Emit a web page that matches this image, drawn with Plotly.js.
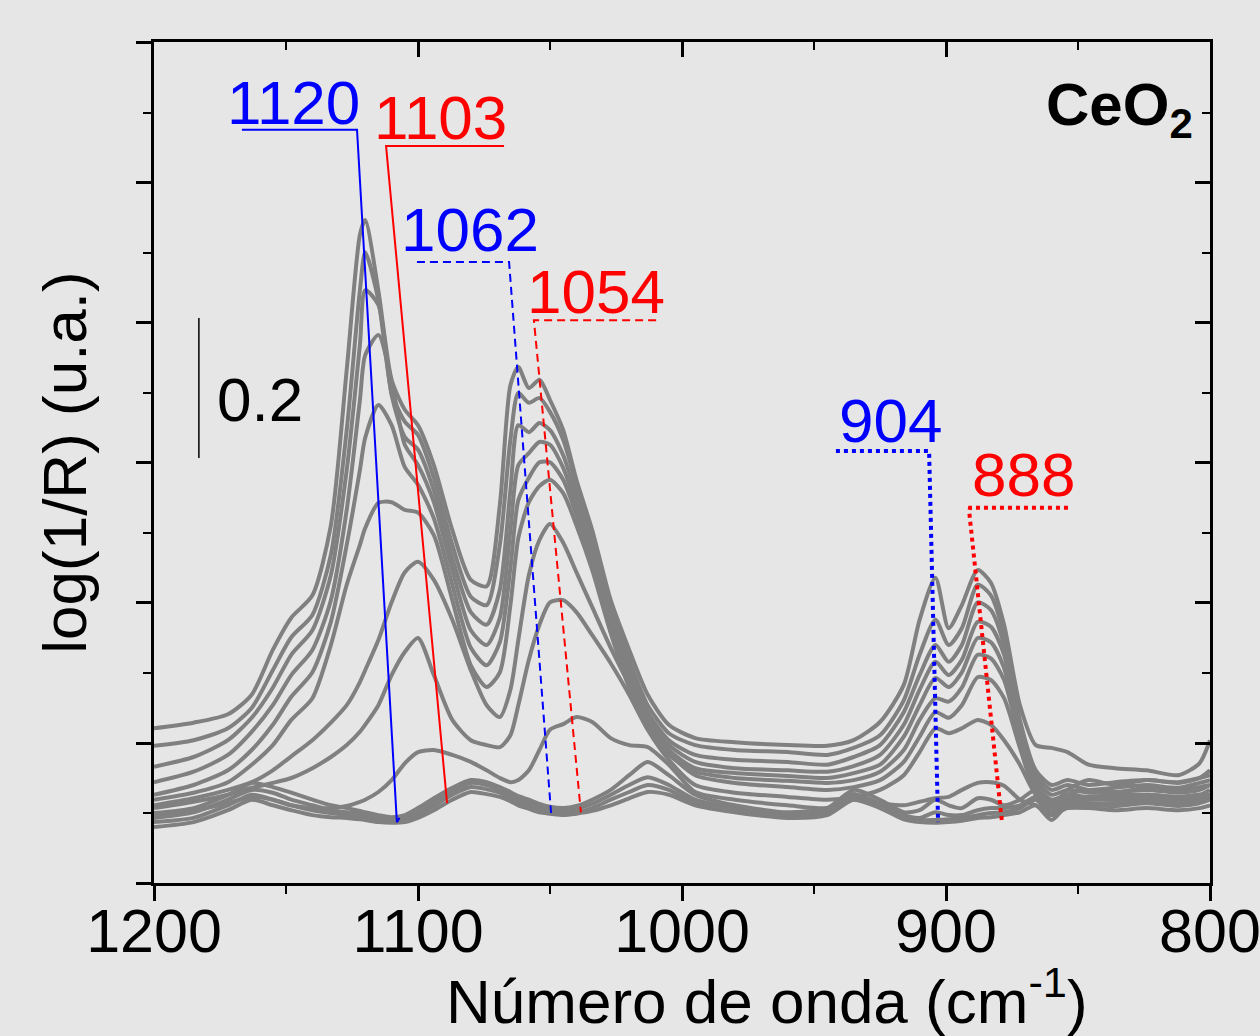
<!DOCTYPE html>
<html><head><meta charset="utf-8">
<script src="https://cdn.plot.ly/plotly-3.0.1.min.js"></script>
<style>html,body{margin:0;padding:0;background:#e6e6e6}</style>
</head><body>
<div id="chart" style="width:1260px;height:1036px"></div>
<script>
// Wavenumber grid (cm-1)
const wavenumber = [1200,1185,1172,1163,1155,1148,1140,1133,1127,1122,1120,1115,1110,1105,1100,1094,1087,1080,1074,1069,1065,1062,1058,1054,1050,1045,1040,1034,1027,1020,1013,1005,995,980,960,945,935,925,916,910,904,899,894,888,883,878,872,866,860,854,846,836,824,812,804,800];

// log(1/R) spectra, from the highest curve to the lowest
const spectrum01 = [0.221,0.229,0.241,0.269,0.333,0.379,0.411,0.511,0.733,0.926,0.947,0.846,0.719,0.676,0.654,0.597,0.504,0.433,0.424,0.540,0.711,0.737,0.707,0.719,0.690,0.647,0.576,0.504,0.404,0.333,0.269,0.226,0.207,0.201,0.197,0.196,0.204,0.230,0.283,0.376,0.436,0.364,0.397,0.447,0.429,0.369,0.254,0.197,0.193,0.187,0.169,0.164,0.161,0.154,0.171,0.204];
const spectrum02 = [0.196,0.204,0.221,0.250,0.304,0.351,0.383,0.469,0.647,0.847,0.901,0.833,0.701,0.659,0.640,0.579,0.483,0.409,0.397,0.483,0.633,0.700,0.686,0.693,0.673,0.633,0.569,0.497,0.397,0.319,0.254,0.214,0.197,0.190,0.187,0.183,0.193,0.211,0.261,0.326,0.376,0.340,0.364,0.426,0.411,0.354,0.233,0.161,0.140,0.147,0.140,0.144,0.147,0.144,0.150,0.154];
const spectrum03 = [0.166,0.180,0.204,0.236,0.279,0.326,0.361,0.440,0.590,0.769,0.847,0.826,0.697,0.637,0.619,0.561,0.464,0.387,0.369,0.419,0.561,0.654,0.644,0.657,0.647,0.611,0.554,0.483,0.387,0.307,0.244,0.204,0.183,0.176,0.173,0.169,0.180,0.197,0.244,0.297,0.340,0.316,0.340,0.401,0.390,0.340,0.226,0.154,0.133,0.140,0.133,0.136,0.140,0.136,0.143,0.147];
const spectrum04 = [0.144,0.159,0.183,0.216,0.254,0.297,0.333,0.404,0.533,0.690,0.754,0.783,0.716,0.626,0.597,0.544,0.447,0.361,0.340,0.379,0.504,0.597,0.614,0.630,0.626,0.593,0.540,0.469,0.376,0.297,0.236,0.197,0.173,0.164,0.161,0.159,0.167,0.183,0.226,0.276,0.316,0.297,0.319,0.373,0.366,0.326,0.219,0.147,0.126,0.133,0.129,0.130,0.133,0.129,0.133,0.140];
const spectrum05 = [0.126,0.140,0.161,0.190,0.226,0.266,0.301,0.373,0.483,0.590,0.636,0.683,0.654,0.594,0.569,0.521,0.426,0.336,0.311,0.344,0.450,0.547,0.579,0.601,0.601,0.576,0.526,0.459,0.366,0.287,0.230,0.190,0.164,0.157,0.153,0.150,0.157,0.169,0.209,0.254,0.293,0.280,0.301,0.350,0.344,0.307,0.211,0.140,0.119,0.126,0.123,0.126,0.126,0.123,0.126,0.133];
const spectrum06 = [0.119,0.129,0.144,0.169,0.197,0.233,0.264,0.340,0.426,0.483,0.507,0.543,0.544,0.533,0.529,0.497,0.404,0.311,0.280,0.301,0.397,0.493,0.544,0.567,0.576,0.557,0.511,0.447,0.357,0.279,0.223,0.183,0.159,0.150,0.146,0.143,0.147,0.159,0.190,0.233,0.264,0.259,0.279,0.326,0.321,0.290,0.204,0.133,0.114,0.121,0.119,0.119,0.121,0.119,0.121,0.126];
const spectrum07 = [0.111,0.121,0.133,0.144,0.161,0.181,0.204,0.229,0.254,0.287,0.304,0.347,0.401,0.444,0.459,0.433,0.376,0.304,0.254,0.237,0.276,0.347,0.440,0.490,0.513,0.486,0.444,0.394,0.336,0.283,0.230,0.186,0.154,0.143,0.137,0.133,0.137,0.147,0.173,0.209,0.244,0.236,0.254,0.294,0.290,0.264,0.193,0.129,0.110,0.119,0.114,0.114,0.119,0.114,0.119,0.121];
const spectrum08 = [0.107,0.116,0.126,0.136,0.143,0.150,0.164,0.180,0.197,0.216,0.226,0.254,0.297,0.330,0.350,0.297,0.233,0.204,0.197,0.194,0.211,0.254,0.319,0.369,0.401,0.404,0.387,0.354,0.314,0.269,0.219,0.176,0.140,0.129,0.123,0.119,0.123,0.133,0.154,0.187,0.221,0.214,0.221,0.233,0.226,0.204,0.169,0.126,0.107,0.114,0.111,0.110,0.114,0.110,0.114,0.119];
const spectrum09 = [0.097,0.104,0.114,0.123,0.119,0.111,0.107,0.107,0.110,0.116,0.119,0.130,0.147,0.171,0.187,0.190,0.183,0.173,0.161,0.150,0.144,0.147,0.161,0.190,0.219,0.227,0.237,0.230,0.207,0.197,0.194,0.169,0.130,0.119,0.111,0.107,0.119,0.114,0.111,0.116,0.121,0.123,0.133,0.143,0.144,0.139,0.119,0.111,0.097,0.107,0.107,0.104,0.107,0.104,0.107,0.111];
const spectrum10 = [0.100,0.107,0.126,0.143,0.137,0.129,0.119,0.111,0.107,0.103,0.101,0.097,0.094,0.097,0.107,0.121,0.136,0.147,0.144,0.137,0.130,0.124,0.119,0.113,0.109,0.107,0.110,0.119,0.133,0.154,0.173,0.154,0.126,0.111,0.101,0.107,0.133,0.119,0.101,0.104,0.119,0.111,0.107,0.121,0.119,0.111,0.119,0.133,0.111,0.133,0.147,0.140,0.147,0.143,0.150,0.161];
const spectrum11 = [0.093,0.101,0.119,0.133,0.129,0.119,0.111,0.104,0.101,0.099,0.097,0.094,0.091,0.093,0.101,0.116,0.131,0.143,0.140,0.133,0.126,0.120,0.114,0.109,0.104,0.103,0.106,0.113,0.126,0.140,0.151,0.140,0.119,0.107,0.099,0.103,0.127,0.113,0.097,0.093,0.101,0.097,0.097,0.104,0.107,0.107,0.111,0.123,0.101,0.126,0.133,0.129,0.136,0.133,0.137,0.140];
const spectrum12 = [0.087,0.093,0.111,0.126,0.119,0.111,0.104,0.100,0.097,0.094,0.093,0.090,0.089,0.090,0.097,0.110,0.126,0.137,0.134,0.129,0.121,0.116,0.110,0.104,0.101,0.100,0.101,0.107,0.119,0.130,0.140,0.133,0.114,0.104,0.096,0.100,0.123,0.110,0.094,0.090,0.090,0.091,0.093,0.097,0.100,0.101,0.107,0.119,0.097,0.119,0.123,0.121,0.126,0.123,0.126,0.126];
const spectrum13 = [0.080,0.087,0.104,0.119,0.111,0.104,0.097,0.094,0.093,0.091,0.090,0.087,0.086,0.087,0.093,0.104,0.119,0.130,0.127,0.123,0.117,0.111,0.106,0.101,0.099,0.097,0.099,0.103,0.111,0.121,0.130,0.126,0.111,0.101,0.093,0.097,0.119,0.107,0.091,0.087,0.086,0.087,0.089,0.093,0.094,0.097,0.101,0.111,0.090,0.111,0.111,0.114,0.116,0.111,0.119,0.119];

// Peak labels and their leader lines
const peakLabels = ['1120','1103','1062','1054','904','888'];
const peakLabelX = [1147.3,1091.3,1080.3,1032.6,921.2,870.5];
const peakLabelY = [1.115,1.094,0.934,0.845,0.660,0.583];
const peakColors = ['#0000ff','#ff0000','#0000ff','#ff0000','#0000ff','#ff0000'];
const peakDash = ['solid','solid','8px,5px','8px,5px','dot','dot'];
const peakWidth = [2,2,2,2,4,4];
const leaderX = [
  [1166.7,1123.1,1108.0,1107.0],
  [1067.4,1112.1,1089.0],
  [1100.4,1065.5,1049.6],
  [1009.8,1056.1,1038.3],
  [941.7,906.4,903.0],
  [853.8,890.9,891.2,878.8]
];
const leaderY = [
  [1.076,1.076,0.087,0.093],
  [1.053,1.053,0.114],
  [0.887,0.887,0.100],
  [0.804,0.804,0.101],
  [0.617,0.617,0.087],
  [0.536,0.536,0.530,0.087]
];
const scaleBarX = [1183.0,1183.0];
const scaleBarY = [0.607,0.807];
const scaleBarLabel = '0.2';

const spectra = [spectrum01,spectrum02,spectrum03,spectrum04,spectrum05,spectrum06,spectrum07,spectrum08,spectrum09,spectrum10,spectrum11,spectrum12,spectrum13];

const traces = spectra.map((s,i)=>({
  x: wavenumber, y: s, type:'scatter', mode:'lines', name:'spectrum '+(i+1),
  line:{color:'#808080', width:4, shape:'spline', smoothing:0.7},
  hoverinfo:'skip'
}));

leaderX.forEach((lx,i)=>{
  traces.push({
    x: lx, y: leaderY[i], type:'scatter', mode:'lines', name:peakLabels[i],
    xaxis: i===5 ? 'x2':'x', yaxis: i===5 ? 'y2':'y',
    line:{color:peakColors[i], width:peakWidth[i], dash:peakDash[i]}, hoverinfo:'skip'
  });
});
traces.push({x:scaleBarX, y:scaleBarY, type:'scatter', mode:'lines', name:'scale', line:{color:'#000', width:1.5}, hoverinfo:'skip'});

const FONT = 'Liberation Sans, Arial, Helvetica, sans-serif';
const yr = [0, 1.2014];
const annotations = peakLabels.map((t,i)=>({
  x: peakLabelX[i], y: peakLabelY[i], xref:'x', yref:'y', text:t, showarrow:false,
  xanchor:'center', yanchor:'middle', font:{family:FONT, size:62, color:peakColors[i]}
}));
annotations.push({x:1159.8, y:0.690, xref:'x', yref:'y', text:scaleBarLabel, showarrow:false, xanchor:'center', yanchor:'middle', font:{family:FONT, size:62, color:'#000'}});
annotations.push({x:805.7, y:1.105, xref:'x', yref:'y', text:'<b>CeO<sub>2</sub></b>', showarrow:false, xanchor:'right', yanchor:'middle', font:{family:FONT, size:60, color:'#000'}});
annotations.push({x:0.5805, y:-0.135, xref:'paper', yref:'paper', text:'Número de onda (cm<sup>-1</sup>)', showarrow:false, xanchor:'center', yanchor:'middle', font:{family:FONT, size:62, color:'#000'}});

const axisCommon = {showgrid:false, zeroline:false, showline:true, linecolor:'#000', linewidth:3, tickcolor:'#000', tickwidth:3, ticklen:15};

const layout = {
  width:1260, height:1036,
  paper_bgcolor:'#e6e6e6', plot_bgcolor:'#e6e6e6',
  margin:{l:154, r:50, t:42, b:153, pad:0},
  showlegend:false,
  font:{family:FONT, color:'#000'},
  xaxis:Object.assign({}, axisCommon, {
    range:[1200,800], ticks:'outside', tick0:800, dtick:100,
    tickfont:{family:FONT, size:61, color:'#000'},
    ticklabeloverflow:'allow', ticklabelstandoff:-22,
    minor:{ticks:'outside', dtick:50, ticklen:8, tickwidth:2, tickcolor:'#000', showgrid:false}
  }),
  xaxis2:Object.assign({}, axisCommon, {
    range:[1200,800], overlaying:'x', side:'top', anchor:'y', ticks:'inside', tick0:800, dtick:100,
    showticklabels:false,
    minor:{ticks:'inside', dtick:50, ticklen:8, tickwidth:2, tickcolor:'#000', showgrid:false}
  }),
  yaxis:Object.assign({}, axisCommon, {
    range:yr, ticks:'outside', tick0:0, dtick:0.2, showticklabels:false,
    minor:{ticks:'outside', dtick:0.1, ticklen:8, tickwidth:2, tickcolor:'#000', showgrid:false},
    title:{text:'log(1/R) (u.a.)', font:{family:FONT, size:62, color:'#000'}, standoff:30}
  }),
  yaxis2:Object.assign({}, axisCommon, {
    range:yr, overlaying:'y', side:'right', anchor:'x', ticks:'inside', tick0:0, dtick:0.2,
    showticklabels:false,
    minor:{ticks:'inside', dtick:0.1, ticklen:8, tickwidth:2, tickcolor:'#000', showgrid:false}
  }),
  annotations: annotations
};

Plotly.newPlot('chart', traces, layout, {staticPlot:true, displayModeBar:false});
</script>
</body></html>
